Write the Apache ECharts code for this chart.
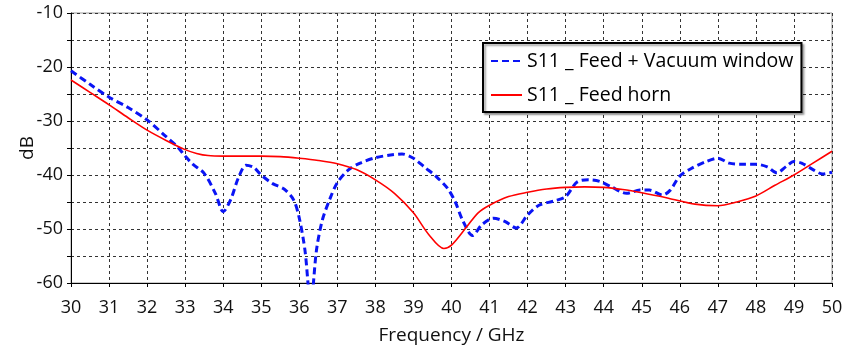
<!DOCTYPE html>
<html>
<head>
<meta charset="utf-8">
<script src="https://cdn.jsdelivr.net/npm/echarts@6/dist/echarts.min.js"></script>
<style>
  html, body { margin: 0; padding: 0; background: #fff; }
  #echart { width: 856px; height: 346px; }
</style>
</head>
<body>
<div id="echart"></div>
<script>
// S11 _ Feed + Vacuum window (blue dashed)
var windowFreq = [30, 30.5, 31, 31.5, 32, 32.5, 32.8, 33, 33.2, 33.5, 33.8, 34.0, 34.2, 34.4, 34.6, 34.8,
  35.0, 35.3, 35.6, 35.85, 36.0, 36.15, 36.3, 36.45, 36.6, 36.8, 37.0, 37.3, 37.6, 38.0, 38.4, 38.7,
  39.0, 39.3, 39.6, 39.9, 40.1, 40.3, 40.55, 40.8, 41.1, 41.4, 41.7, 42.0, 42.3, 42.7, 43.0, 43.3,
  43.6, 43.9, 44.2, 44.6, 44.95, 45.2, 45.55, 45.75, 46.0, 46.3, 46.7, 47.0, 47.3, 47.65, 48.0, 48.3,
  48.55, 48.8, 49.0, 49.2, 49.5, 49.75, 50.0];
var windowDb = [-20.7, -23.2, -25.6, -27.5, -29.8, -32.9, -34.8, -36.5, -38.0, -39.7, -43.5, -46.8, -44.5, -40.5, -38.2, -38.6,
  -40.0, -41.6, -42.6, -44.6, -48.0, -54, -64, -54, -48.5, -44.5, -41.4, -39.0, -37.8, -36.8, -36.3, -36.1,
  -36.9, -38.6, -40.3, -42.5, -45, -48.5, -51.2, -49.2, -48.0, -48.6, -49.8, -47.4, -45.6, -44.8, -44.0, -41.3,
  -40.9, -41.2, -42.2, -43.4, -42.8, -42.8, -43.7, -42.8, -40.2, -38.8, -37.5, -36.9, -37.8, -38.0, -38.0, -38.5,
  -39.6, -38.4, -37.5, -37.8, -39.0, -39.8, -39.5];

// S11 _ Feed horn (red solid)
var hornFreq = [30, 30.5, 31, 31.5, 32, 32.5, 33, 33.3, 33.6, 34, 34.5, 35, 35.5, 36, 36.5, 37, 37.5, 38,
  38.5, 39, 39.4, 39.8, 40.0, 40.4, 40.7, 41, 41.5, 42, 42.5, 43, 43.5, 44, 44.5, 45, 45.7, 46.4, 47,
  47.5, 48, 48.5, 49, 49.5, 50];
var hornDb = [-22.4, -24.7, -27.0, -29.4, -31.7, -33.6, -35.3, -36.0, -36.4, -36.5, -36.5, -36.5, -36.6, -36.9, -37.3, -37.9, -39.0, -40.9,
  -43.4, -47.0, -51.0, -53.6, -53.0, -49.6, -47.0, -45.6, -44.0, -43.2, -42.6, -42.3, -42.2, -42.3, -42.7, -43.3, -44.3, -45.4, -45.7,
  -45.0, -43.9, -41.9, -40.0, -37.8, -35.6];

var seriesNames = ["S11 _ Feed + Vacuum window", "S11 _ Feed horn"];

function pairs(xs, ys) {
  return xs.map(function (x, i) { return [x, ys[i]]; });
}

var font = "'Open Sans', 'Noto Sans', sans-serif";
var echart = echarts.init(document.getElementById("echart"));
echart.setOption({
  animation: false,
  grid: {
    left: 71,
    right: 24,
    top: 13,
    bottom: 63,
    outerBoundsMode: "none",
    containLabel: false,
    show: true,
    borderColor: "#999",
    borderWidth: 1
  },
  legend: {
    orient: "vertical",
    left: 483,
    top: 43,
    padding: [7, 8, 6, 7],
    itemGap: 12,
    itemWidth: 31,
    itemHeight: 14,
    backgroundColor: "#fff",
    borderColor: "#000",
    borderWidth: 2,
    shadowColor: "rgba(0,0,0,0.35)",
    shadowOffsetX: 2,
    shadowOffsetY: 2,
    shadowBlur: 2,
    itemStyle: { opacity: 0 },
    textStyle: { color: "inherit", fontSize: 19.5, lineHeight: 22, fontFamily: font },
    data: seriesNames
  },
  xAxis: {
    type: "value",
    min: 30,
    max: 50,
    interval: 1,
    name: "Frequency / GHz",
    nameLocation: "middle",
    nameGap: 43,
    nameMoveOverlap: false,
    nameTextStyle: { color: "#111", fontSize: 19, fontFamily: font },
    axisLine: { lineStyle: { color: "#000", width: 1 } },
    axisTick: { length: 4, lineStyle: { color: "#000" } },
    axisLabel: { color: "#111", fontSize: 18, fontFamily: font, margin: 16 },
    splitLine: { lineStyle: { color: "#333", type: [3, 3], width: 1 } }
  },
  yAxis: {
    type: "value",
    min: -60,
    max: -10,
    interval: 5,
    name: "dB",
    nameLocation: "middle",
    nameGap: 34,
    nameMoveOverlap: false,
    nameTextStyle: { color: "#111", fontSize: 19, fontFamily: font },
    axisLine: { show: true, lineStyle: { color: "#000", width: 1 } },
    axisTick: { show: true, length: 4, lineStyle: { color: "#000" } },
    axisLabel: {
      color: "#111",
      fontSize: 18,
      fontFamily: font,
      margin: 8,
      formatter: function (v) { return v % 10 === 0 ? v : ""; }
    },
    splitLine: { lineStyle: { color: "#333", type: [3, 3], width: 1 } }
  },
  series: [
    {
      name: seriesNames[0],
      type: "line",
      smooth: 0.3,
      showSymbol: false,
      symbol: "none",
      clip: true,
      itemStyle: { color: "#0a14f5" },
      lineStyle: { color: "#0a14f5", width: 3, type: [7, 4] },
      data: pairs(windowFreq, windowDb)
    },
    {
      name: seriesNames[1],
      type: "line",
      smooth: 0.3,
      showSymbol: false,
      symbol: "none",
      clip: true,
      itemStyle: { color: "#ff0000" },
      lineStyle: { color: "#ff0000", width: 1.6 },
      data: pairs(hornFreq, hornDb)
    }
  ]
});
</script>
</body>
</html>
